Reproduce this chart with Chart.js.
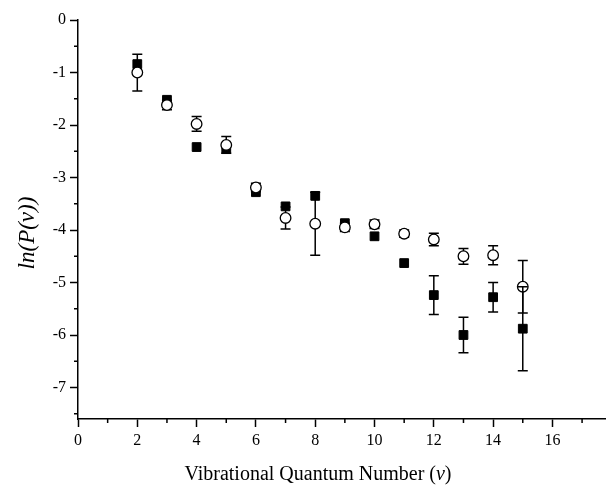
<!DOCTYPE html>
<html><head><meta charset="utf-8">
<script src="https://cdn.jsdelivr.net/npm/chart.js@4"></script>
<style>html,body{margin:0;padding:0;background:#fff}#wrap{width:613px;height:491px}</style>
</head><body><div id="wrap"><canvas id="c" width="613" height="491"></canvas></div>
<script>
const vLevels      = [2, 3, 4, 5, 6, 7, 8, 9, 10, 11, 12, 13, 14, 15];
const filledValues = [-0.84, -1.52, -2.42, -2.46, -3.28, -3.55, -3.35, -3.87, -4.12, -4.63, -5.24, -6.0, -5.28, -5.88];
const filledErrors = [0, 0, 0, 0, 0, 0, 0, 0, 0, 0, 0.37, 0.34, 0.28, 0.8];
const openValues   = [-1.0, -1.62, -1.98, -2.38, -3.19, -3.77, -3.88, -3.95, -3.89, -4.07, -4.18, -4.5, -4.48, -5.08];
const openErrors   = [0.35, 0.09, 0.14, 0.16, 0.08, 0.21, 0.6, 0.08, 0.08, 0.07, 0.12, 0.15, 0.18, 0.5];
const xMajorTicks  = [0, 2, 4, 6, 8, 10, 12, 14, 16];
const xMinorTicks  = [1, 3, 5, 7, 9, 11, 13, 15, 17];
const yMajorTicks  = [0, -1, -2, -3, -4, -5, -6, -7];
const yMinorTicks  = [-0.5, -1.5, -2.5, -3.5, -4.5, -5.5, -6.5, -7.5];
const xTitleMain   = 'Vibrational Quantum Number (';
const xTitleVar    = 'v';
const xTitleEnd    = ')';
const yTitle       = 'ln(P(v))';

const SERIF = '"Liberation Serif", "DejaVu Serif", serif';

function drawBars(chart, dsIndex, errors) {
  const meta = chart.getDatasetMeta(dsIndex);
  const ys = chart.scales.y;
  const ctx = chart.ctx;
  ctx.save();
  ctx.strokeStyle = '#000';
  ctx.lineWidth = 1.5;
  meta.data.forEach((pt, i) => {
    if (!errors[i]) return;
    const raw = chart.data.datasets[dsIndex].data[i];
    const top = ys.getPixelForValue(raw.y + errors[i]);
    const bot = ys.getPixelForValue(raw.y - errors[i]);
    const x = pt.x;
    ctx.beginPath();
    ctx.moveTo(x, top); ctx.lineTo(x, bot);
    ctx.moveTo(x - 5, top); ctx.lineTo(x + 5, top);
    ctx.moveTo(x - 5, bot); ctx.lineTo(x + 5, bot);
    ctx.stroke();
  });
  ctx.restore();
}

const errorBarPlugin = {
  id: 'errorBars',
  beforeDatasetsDraw(chart) { drawBars(chart, 0, openErrors); },
  afterDatasetsDraw(chart) { drawBars(chart, 1, filledErrors); }
};

const decorPlugin = {
  id: 'decor',
  afterDraw(chart) {
    const ctx = chart.ctx;
    const xs = chart.scales.x, ys = chart.scales.y;
    const ca = chart.chartArea;
    ctx.save();
    ctx.strokeStyle = '#000';
    ctx.lineWidth = 1.5;
    ctx.beginPath();
    xMinorTicks.forEach(v => {
      const x = xs.getPixelForValue(v);
      ctx.moveTo(x, ca.bottom); ctx.lineTo(x, ca.bottom + 4);
    });
    yMinorTicks.forEach(v => {
      const y = ys.getPixelForValue(v);
      ctx.moveTo(ca.left - 4, y); ctx.lineTo(ca.left, y);
    });
    ctx.stroke();
    // x title
    ctx.fillStyle = '#000';
    ctx.textBaseline = 'middle';
    const fN = '20px ' + SERIF, fI = 'italic 20px ' + SERIF;
    ctx.font = fN; const w1 = ctx.measureText(xTitleMain).width; const w3 = ctx.measureText(xTitleEnd).width;
    ctx.font = fI; const w2 = ctx.measureText(xTitleVar).width;
    const total = w1 + w2 + w3;
    let x0 = 318 - total / 2;
    ctx.textAlign = 'left';
    ctx.font = fN; ctx.fillText(xTitleMain, x0, 475);
    ctx.font = fI; ctx.fillText(xTitleVar, x0 + w1, 475);
    ctx.font = fN; ctx.fillText(xTitleEnd, x0 + w1 + w2, 475);
    // y title
    ctx.translate(28, 233);
    ctx.rotate(-Math.PI / 2);
    ctx.textAlign = 'center';
    ctx.font = 'italic 23px ' + SERIF;
    ctx.fillText(yTitle, 0, 0);
    ctx.restore();
  }
};

new Chart(document.getElementById('c'), {
  type: 'scatter',
  data: {
    datasets: [
      {
        label: 'open',
        data: vLevels.map((v, i) => ({ x: v, y: openValues[i] })),
        pointStyle: 'circle',
        pointRadius: 5.3,
        pointBackgroundColor: '#fff',
        pointBorderColor: '#000',
        pointBorderWidth: 1.3,
        order: 0
      },
      {
        label: 'filled',
        data: vLevels.map((v, i) => ({ x: v, y: filledValues[i] })),
        pointStyle: 'rect',
        pointRadius: 6.2,
        pointBackgroundColor: '#000',
        pointBorderColor: '#000',
        pointBorderWidth: 1,
        order: 1
      }
    ]
  },
  options: {
    responsive: false,
    animation: false,
    events: [],
    layout: { padding: { top: 20, right: 0, left: 0, bottom: 0 } },
    plugins: { legend: { display: false }, tooltip: { enabled: false } },
    scales: {
      x: {
        type: 'linear', min: 0, max: 17.8,
        afterBuildTicks: s => { s.ticks = xMajorTicks.map(v => ({ value: v })); },
        afterFit: s => { s.height = 72; },
        ticks: { font: { family: SERIF, size: 16 }, color: '#000', padding: 4, maxRotation: 0, autoSkip: false },
        grid: { drawOnChartArea: false, drawTicks: true, tickLength: 8, tickWidth: 1.5, tickColor: '#000' },
        border: { display: true, color: '#000', width: 1.5 }
      },
      y: {
        type: 'linear', min: -7.6, max: 0,
        afterBuildTicks: s => { s.ticks = yMajorTicks.map(v => ({ value: v })); },
        afterFit: s => { s.width = 78; },
        ticks: { font: { family: SERIF, size: 16 }, color: '#000', padding: 4, autoSkip: false },
        grid: { drawOnChartArea: false, drawTicks: true, tickLength: 8, tickWidth: 1.5, tickColor: '#000' },
        border: { display: true, color: '#000', width: 1.5 }
      }
    }
  },
  plugins: [errorBarPlugin, decorPlugin]
});
</script>
</body></html>
